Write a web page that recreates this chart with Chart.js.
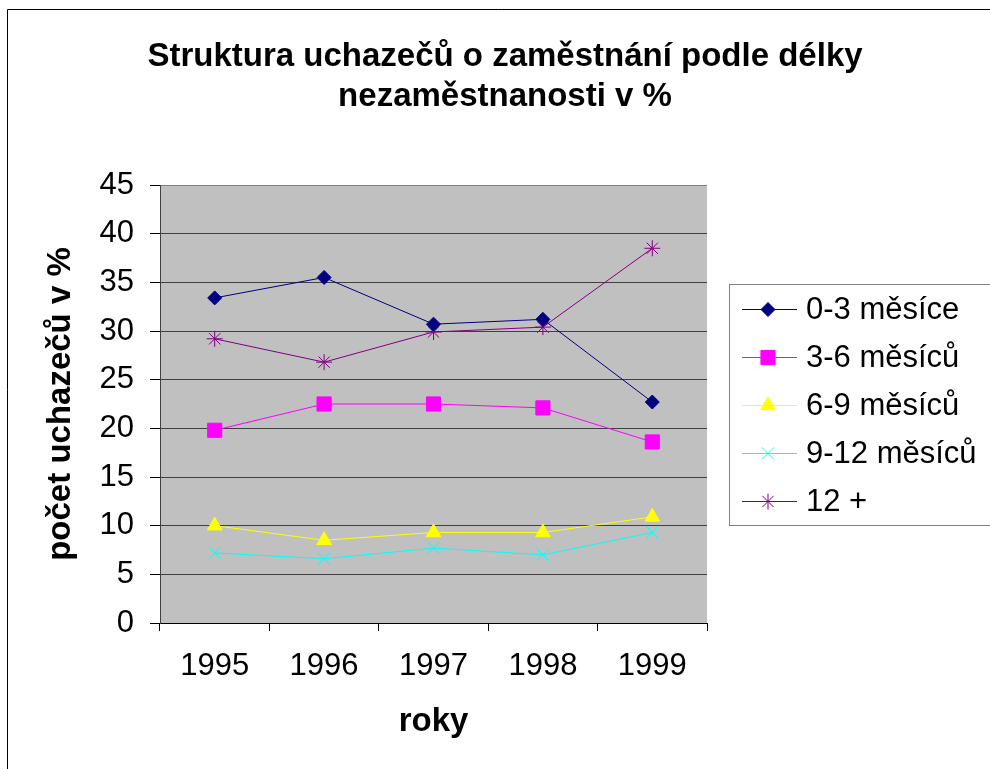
<!DOCTYPE html>
<html>
<head>
<meta charset="utf-8">
<script src="https://cdn.jsdelivr.net/npm/chart.js@4/dist/chart.umd.min.js"></script>
<style>
  html, body { margin: 0; padding: 0; background: #fff; }
  #wrap { width: 990px; height: 769px; }
</style>
</head>
<body>
<div id="wrap"><canvas id="chart" width="990" height="769"></canvas></div>
<script>
// Data
const years = ['1995', '1996', '1997', '1998', '1999'];
const m0to3 = [33.4, 35.5, 30.7, 31.2, 22.7];
const m3to6 = [19.8, 22.5, 22.5, 22.1, 18.6];
const m6to9 = [10.0, 8.5, 9.3, 9.3, 10.9];
const m9to12 = [7.2, 6.6, 7.7, 7.0, 9.3];
const m12plus = [29.2, 26.8, 29.9, 30.4, 38.5];
const seriesNames = ['0-3 měsíce', '3-6 měsíců', '6-9 měsíců', '9-12 měsíců', '12 +'];
const yTicks = [0, 5, 10, 15, 20, 25, 30, 35, 40, 45];

const FONT = 'Arial, "Liberation Sans", sans-serif';

function series(label, data, color, style, radius) {
    return {
        label: label,
        data: data,
        borderColor: color,
        backgroundColor: color,
        borderWidth: 1,
        pointStyle: style,
        pointRadius: radius,
        pointHoverRadius: radius,
        pointBorderColor: color,
        pointBackgroundColor: color,
        pointBorderWidth: 1,
        tension: 0,
        fill: false
    };
}

// gray plot background + outer frame + title
const backdrop = {
    id: 'backdrop',
    beforeDraw(chart) {
        const ctx = chart.ctx, a = chart.chartArea;
        ctx.save();
        ctx.fillStyle = '#c0c0c0';
        ctx.fillRect(a.left, a.top, a.right - a.left, a.bottom - a.top);
        ctx.strokeStyle = '#000';
        ctx.lineWidth = 1;
        ctx.beginPath();
        ctx.moveTo(990, 9.5);
        ctx.lineTo(7.5, 9.5);
        ctx.lineTo(7.5, 769);
        ctx.stroke();
        ctx.fillStyle = '#000';
        ctx.font = 'bold 33px ' + FONT;
        ctx.textAlign = 'center';
        ctx.textBaseline = 'middle';
        ctx.fillText('Struktura uchazečů o zaměstnání podle délky', 505, 57);
        ctx.fillText('nezaměstnanosti v %', 505, 97);
        ctx.restore();
    }
};

// legend box with line + marker samples
const sideLegend = {
    id: 'sideLegend',
    afterDraw(chart) {
        const ctx = chart.ctx;
        ctx.save();
        ctx.strokeStyle = '#808080';
        ctx.lineWidth = 1;
        ctx.strokeRect(729.5, 284.5, 300, 241);
        ctx.font = '31px ' + FONT;
        ctx.textAlign = 'left';
        ctx.textBaseline = 'middle';
        chart.data.datasets.forEach(function(ds, i) {
            const y = 309 + i * 48;
            ctx.strokeStyle = ds.borderColor;
            ctx.lineWidth = 1;
            ctx.beginPath();
            ctx.moveTo(742, y + 0.5);
            ctx.lineTo(797, y + 0.5);
            ctx.stroke();
            ctx.fillStyle = ds.backgroundColor;
            Chart.helpers.drawPoint(ctx, {
                pointStyle: ds.pointStyle,
                radius: ds.pointRadius,
                rotation: 0,
                borderWidth: 1
            }, 768, y + 0.5);
            ctx.fillStyle = '#000';
            ctx.fillText(ds.label, 806, y + 1);
        });
        ctx.restore();
    }
};

new Chart(document.getElementById('chart'), {
    type: 'line',
    data: {
        labels: years,
        datasets: [
            series(seriesNames[0], m0to3, '#000080', 'rectRot', 7),
            series(seriesNames[1], m3to6, '#ff00ff', 'rect', 10),
            series(seriesNames[2], m6to9, '#ffff00', 'triangle', 8.5),
            series(seriesNames[3], m9to12, '#00ffff', 'crossRot', 8.5),
            series(seriesNames[4], m12plus, '#800080', 'star', 8)
        ]
    },
    options: {
        responsive: false,
        animation: false,
        layout: { padding: { left: 0, right: 283, top: 185, bottom: 0 } },
        plugins: {
            legend: { display: false },
            title: { display: false },
            tooltip: { enabled: false }
        },
        scales: {
            x: {
                offset: true,
                grid: {
                    offset: true,
                    drawOnChartArea: false,
                    drawTicks: true,
                    tickLength: 8,
                    tickColor: '#000'
                },
                border: { color: '#000', width: 1 },
                ticks: {
                    color: '#000',
                    font: { family: FONT, size: 31 },
                    padding: 17,
                    maxRotation: 0
                },
                title: {
                    display: true,
                    text: 'roky',
                    color: '#000',
                    font: { family: FONT, size: 33, weight: 'bold' },
                    padding: { top: 0, bottom: 27 }
                },
                afterFit(scale) { scale.height = 146; }
            },
            y: {
                min: 0,
                max: 45,
                afterBuildTicks(scale) {
                    scale.ticks = yTicks.map(function(v) { return { value: v }; });
                },
                grid: {
                    color: function(c) { return c.index === yTicks.length - 1 ? '#808080' : '#404040'; },
                    tickColor: '#000',
                    tickLength: 10,
                    lineWidth: 1
                },
                border: { color: '#404040', width: 1 },
                ticks: {
                    color: '#000',
                    font: { family: FONT, size: 31 },
                    padding: 16
                },
                title: {
                    display: true,
                    text: 'počet uchazečů v %',
                    color: '#000',
                    font: { family: FONT, size: 33, weight: 'bold' },
                    padding: { top: 41, bottom: 0 }
                },
                afterFit(scale) { scale.width = 160; }
            }
        }
    },
    plugins: [backdrop, sideLegend]
});
</script>
</body>
</html>
